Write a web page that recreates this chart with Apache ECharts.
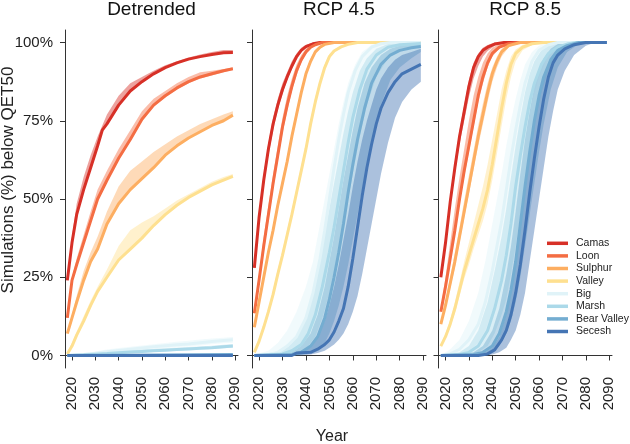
<!DOCTYPE html>
<html><head><meta charset="utf-8">
<script src="https://cdn.jsdelivr.net/npm/echarts@6/dist/echarts.min.js"></script>
<style>html,body{margin:0;padding:0;background:#fff}#c{width:630px;height:444px}</style>
</head><body><div id="c"></div>
<script>
const names = ['Camas','Loon','Sulphur','Valley','Big','Marsh','Bear Valley','Secesh'];
const colors = ['#d73027','#f46d43','#fdae61','#fee090','#e0f3f8','#abd9e9','#74add1','#4575b4'];
const panelTitles = ['Detrended','RCP 4.5','RCP 8.5'];
const xTickYears = [2020,2030,2040,2050,2060,2070,2080,2090];
const yTickValues = [0,25,50,75,100];

// ---------- Detrended ----------
const detCamas = [[2018,24],[2020,36],[2022,45],[2025,53],[2028,60],[2031,67],[2033,72],[2035,74],[2040,80],[2045,84.5],[2050,87.5],[2055,90],[2060,92],[2065,93.5],[2070,94.7],[2075,95.5],[2080,96.2],[2085,96.7],[2089,96.8]];
const detCamasBand = [[2018,24,24.5],[2020,36,38],[2022,45,48.5],[2025,53,57],[2028,60,64],[2031,67,70],[2033,72,73.5],[2035,74,77],[2040,80,83],[2045,84.5,87],[2050,87.5,89],[2055,90,91],[2060,92,92.7],[2065,93.5,94],[2070,94.5,95.2],[2075,95.4,96.2],[2080,96,97],[2085,96.5,97.6],[2089,96.6,97.6]];
const detLoon = [[2018,12],[2020,24],[2022,29],[2025,36],[2028,43],[2031,50],[2035,56],[2040,63],[2045,69],[2050,75.5],[2055,80],[2060,83],[2065,85.5],[2070,87.5],[2075,89],[2080,90],[2085,91],[2089,91.6]];
const detLoonBand = [[2018,12,12.5],[2020,23.5,25],[2022,28.5,31],[2025,35.5,38.5],[2028,42.5,46],[2031,49.5,53],[2035,55.5,59],[2040,62.5,66],[2045,68.5,72],[2050,75,78],[2055,79.5,82],[2060,82.5,84.5],[2065,85,87],[2070,87,89],[2075,88.5,90.5],[2080,89.5,91],[2085,90.5,91.5],[2089,91.3,92]];
const detSulphur = [[2018,7],[2020,12],[2022,17],[2025,24],[2028,30],[2031,34],[2035,42],[2040,48.5],[2045,53],[2050,56.5],[2055,60],[2060,64],[2065,67],[2070,69.5],[2075,71.5],[2080,73.5],[2085,75],[2089,76.8]];
const detSulphurBand = [[2018,7,7.5],[2020,12,13],[2022,17,19],[2025,24,27],[2028,30,33],[2031,34,38],[2035,42,46],[2040,48.5,54],[2045,53,59],[2050,56.5,62],[2055,60,65],[2060,64,67.5],[2065,67,70],[2070,69.5,72],[2075,71.5,74],[2080,73.5,75.5],[2085,75,77],[2089,76.5,78]];
const detValley = [[2018,0.5],[2020,3],[2022,6.5],[2025,11],[2028,16],[2031,20.5],[2035,25],[2040,30.5],[2045,34],[2050,37.5],[2055,41.5],[2060,45],[2065,48],[2070,50.5],[2075,52.5],[2080,54.5],[2085,56],[2089,57.2]];
const detValleyBand = [[2018,0.5,1],[2020,3,4],[2022,6.5,7.5],[2025,11,12.5],[2028,16,17.5],[2031,20.5,22],[2035,25,27.5],[2040,30.5,35],[2045,34,40],[2050,37.5,42.5],[2055,41.5,44.5],[2060,45,47],[2065,48,49.5],[2070,50.5,51.5],[2075,52.5,53.5],[2080,54.5,55.5],[2085,56,57],[2089,57,58]];
const detBig = [[2018,0],[2025,0.3],[2030,0.7],[2035,1.2],[2040,1.6],[2045,2],[2050,2.4],[2055,2.8],[2060,3.1],[2065,3.4],[2070,3.7],[2075,4.1],[2080,4.5],[2085,4.8],[2089,5]];
const detBigBand = [[2018,0,0.2],[2025,0.1,0.7],[2030,0.3,1.3],[2035,0.7,1.9],[2040,1,2.4],[2045,1.3,2.8],[2050,1.6,3.2],[2055,2,3.6],[2060,2.3,4],[2065,2.6,4.4],[2070,2.9,4.7],[2075,3.2,5.1],[2080,3.6,5.4],[2085,3.9,5.7],[2089,4.1,5.9]];
const detMarsh = [[2018,0],[2025,0.2],[2030,0.4],[2035,0.6],[2040,0.9],[2045,1.1],[2050,1.3],[2055,1.5],[2060,1.7],[2065,1.9],[2070,2.1],[2075,2.3],[2080,2.5],[2085,2.8],[2089,3]];
const detMarshBand = [[2018,0,0.1],[2025,0,0.5],[2030,0.1,0.8],[2035,0.3,1.1],[2040,0.5,1.4],[2045,0.7,1.6],[2050,0.9,1.9],[2055,1.1,2.1],[2060,1.3,2.3],[2065,1.5,2.5],[2070,1.7,2.7],[2075,1.9,2.9],[2080,2.1,3.1],[2085,2.3,3.4],[2089,2.5,3.6]];
const detBear = [[2018,0],[2040,0.1],[2089,0.3]];
const detSecesh = [[2018,0],[2089,0]];

// ---------- RCP 4.5 ----------
const r45Camas = [[2018,28],[2020,44],[2022,56],[2024,66],[2026,74],[2028,80],[2030,85],[2032,89],[2034,92.5],[2036,95.5],[2038,97.5],[2040,98.7],[2043,99.6],[2046,100],[2089,100]];
const r45CamasBand = [[2018,27.5,29],[2020,42.5,45.5],[2022,54,58],[2024,64,68],[2026,72,76],[2028,78.5,82],[2030,83.5,87],[2032,88,90.5],[2034,91.5,94],[2036,94.5,96.5],[2038,97,98.3],[2040,98.3,99.3],[2043,99.4,100],[2046,100,100],[2089,100,100]];
const r45Loon = [[2018,13.5],[2020,24],[2022,35],[2024,45],[2026,55],[2028,64],[2030,73],[2032,80],[2034,86],[2036,91],[2038,94.5],[2040,97],[2042,98.5],[2044,99.3],[2047,100],[2089,100]];
const r45LoonBand = [[2018,13,14.5],[2020,22.5,26],[2022,33,38],[2024,43,48],[2026,53,58],[2028,62,67],[2030,71,76],[2032,78,83],[2034,84.5,88.5],[2036,89.5,93],[2038,93.5,96],[2040,96.3,98],[2042,98,99.2],[2044,99,99.8],[2047,100,100],[2089,100,100]];
const r45Sulphur = [[2018,9],[2020,17],[2022,25],[2024,33],[2026,40],[2028,48],[2030,55],[2032,62],[2034,70],[2036,77],[2038,84],[2040,90],[2042,94],[2044,97],[2046,98.5],[2048,99.4],[2052,100],[2089,100]];
const r45SulphurBand = [[2018,8.5,9.5],[2020,16,18],[2022,24,26.5],[2024,32,34.5],[2026,39,41.5],[2028,47,49.5],[2030,54,56.5],[2032,61,63.5],[2034,69,71.5],[2036,76,78.5],[2038,83,85],[2040,89,91],[2042,93.3,95],[2044,96.5,97.7],[2046,98,99],[2048,99.2,99.7],[2052,100,100],[2089,100,100]];
const r45Valley = [[2018,1],[2020,4.5],[2022,9],[2024,14],[2026,19.5],[2028,26],[2030,32],[2032,38.5],[2034,45],[2036,52],[2038,59],[2040,66],[2042,74],[2044,81],[2046,87],[2048,92],[2050,95.5],[2052,97.3],[2055,98.6],[2058,99.4],[2062,100],[2089,100]];
const r45ValleyBand = [[2018,0.8,1.3],[2020,4,5.5],[2022,8.3,10],[2024,13,15],[2026,18.5,21],[2028,25,27.5],[2030,31,33.5],[2032,37.5,40],[2034,44,46.5],[2036,51,53.5],[2038,58,60.5],[2040,65,67.5],[2042,73,75.5],[2044,80,82.5],[2046,86,88],[2048,91.3,93],[2050,95,96.3],[2052,97,97.8],[2055,98.4,99],[2058,99.2,99.7],[2062,100,100],[2089,100,100]];
const r45Big = [[2018,0],[2024,0.3],[2028,1],[2032,3],[2036,6],[2040,12],[2043,20],[2046,31],[2048,40],[2050,50],[2052,60],[2054,69],[2056,77],[2058,84],[2061,91],[2064,95.5],[2068,98.5],[2072,99.6],[2076,100],[2089,100]];
const r45BigBand = [[2018,0,0.2],[2024,0,1.5],[2028,0.3,4],[2032,1,8],[2036,2.5,14],[2040,5,22],[2043,9,30],[2046,16,42],[2048,22,50],[2050,30,58],[2052,39,66],[2054,48,74],[2056,57,81],[2058,66,87],[2061,77,93],[2064,86,97],[2068,93,99.3],[2072,97,100],[2076,99,100],[2080,100,100],[2089,100,100]];
const r45Marsh = [[2018,0],[2030,0.5],[2034,1.5],[2038,3.5],[2041,7],[2044,13],[2047,22],[2050,33],[2052,41],[2054,50],[2056,59],[2058,68],[2060,76],[2063,85],[2066,91.5],[2070,96],[2075,98.5],[2080,99.3],[2089,99.7]];
const r45MarshBand = [[2018,0,0],[2030,0,1.5],[2034,0.5,4],[2038,1.5,9],[2041,3,15],[2044,6,24],[2047,12,35],[2050,20,47],[2052,26,55],[2054,33,63],[2056,41,71],[2058,50,78],[2060,58,84],[2063,70,91],[2066,80,95],[2070,89,98],[2075,95,99.5],[2080,98,100],[2089,99,100]];
const r45Bear = [[2018,0],[2034,0.3],[2038,1],[2042,3],[2045,6],[2048,12],[2050,18],[2052,25],[2054,33],[2056,42],[2058,52],[2060,61],[2062,69],[2065,79],[2068,87],[2072,93],[2076,96],[2080,97.5],[2085,98.3],[2089,98.7]];
const r45BearBand = [[2018,0,0],[2034,0,1],[2038,0.2,3],[2042,1,7],[2045,2,13],[2048,4,22],[2050,7,30],[2052,11,38],[2054,16,47],[2056,22,56],[2058,29,64],[2060,37,72],[2062,45,79],[2065,57,87],[2068,68,92],[2072,80,96],[2076,88,98],[2080,92,99],[2085,95,99.6],[2089,97,100]];
const r45Secesh = [[2018,0],[2034,0],[2036,0.8],[2042,1],[2045,2],[2048,3.5],[2050,5],[2052,7.5],[2054,11],[2056,15],[2058,22],[2060,31],[2062,41],[2064,51],[2066,60],[2068,67.5],[2070,74],[2072,79],[2075,84],[2078,87.5],[2081,90],[2085,91.5],[2089,93]];
const r45SeceshBand = [[2018,0,0],[2034,0,0.5],[2038,0,1.5],[2042,0.3,3],[2045,0.8,6],[2048,1.5,11],[2050,2.5,16],[2052,3.5,22],[2054,5,29],[2056,7,37],[2058,10,45],[2060,14,54],[2062,19,62],[2064,26,69],[2066,34,75],[2068,42,80],[2070,50,85],[2072,58,88.5],[2075,68,92],[2078,76,94.5],[2081,81,96],[2085,85,97],[2089,87.5,98]];

// ---------- RCP 8.5 ----------
const r85Camas = [[2018,25],[2020,36],[2022,49],[2024,60],[2026,70],[2028,78],[2030,86],[2032,92],[2034,95.5],[2036,97.5],[2038,98.5],[2041,99.5],[2045,100],[2089,100]];
const r85CamasBand = [[2018,24.5,26],[2020,35,37.5],[2022,47.5,51],[2024,58,62],[2026,67.5,72],[2028,75,80],[2030,82.5,88],[2032,88.5,93.5],[2034,92.5,96.5],[2036,95.5,98.3],[2038,97.3,99.2],[2041,99,100],[2045,100,100],[2089,100,100]];
const r85Loon = [[2018,14],[2020,22],[2022,31],[2024,40],[2026,50],[2028,59],[2030,67],[2032,75],[2034,83],[2036,89],[2038,93.5],[2040,96.5],[2043,98.5],[2047,99.6],[2051,100],[2089,100]];
const r85LoonBand = [[2018,13.5,15],[2020,21,25],[2022,30,36],[2024,39,47],[2026,48.5,57],[2028,57,66],[2030,65,75],[2032,73,83],[2034,81,89],[2036,87,93.5],[2038,92,96.5],[2040,95.5,98.3],[2043,98,99.5],[2047,99.5,100],[2051,100,100],[2089,100,100]];
const r85Sulphur = [[2018,10],[2020,16],[2022,23],[2024,30],[2026,38],[2028,46],[2030,54],[2032,62],[2034,70],[2036,77],[2038,84],[2040,90],[2042,94],[2044,97],[2047,99],[2052,100],[2089,100]];
const r85SulphurBand = [[2018,9.5,11],[2020,15,17.5],[2022,21.5,25],[2024,28,33],[2026,36,41],[2028,44,49.5],[2030,51.5,57.5],[2032,59.5,65.5],[2034,67,73.5],[2036,74,80.5],[2038,81,87],[2040,87.5,92],[2042,92,95.5],[2044,95.5,98],[2047,98.5,99.6],[2052,100,100],[2089,100,100]];
const r85Valley = [[2018,3],[2020,6],[2022,10],[2024,15],[2026,21],[2028,27],[2030,32],[2032,37],[2034,42],[2036,47],[2038,53],[2040,61],[2042,70],[2044,79],[2046,87],[2048,93],[2050,96.5],[2053,98.5],[2057,99.6],[2062,100],[2089,100]];
const r85ValleyBand = [[2018,2.5,3.5],[2020,5.5,7],[2022,9,11.5],[2024,13.5,17],[2026,19,23.5],[2028,24.5,30],[2030,29,36],[2032,34,42],[2034,38.5,48],[2036,43,54],[2038,48.5,61],[2040,56,69],[2042,64.5,77],[2044,73.5,85],[2046,82,91],[2048,89,95.5],[2050,94,97.8],[2053,97.5,99.3],[2057,99.2,100],[2062,100,100],[2089,100,100]];
const r85Big = [[2018,0],[2022,0.5],[2026,2],[2030,5],[2034,10],[2037,17],[2040,27],[2042,35],[2044,43],[2046,53],[2048,63],[2050,72],[2052,80],[2054,87],[2057,94],[2060,97.5],[2064,99.3],[2068,100],[2089,100]];
const r85BigBand = [[2018,0,0],[2022,0,2],[2026,0.5,5],[2030,1.5,11],[2034,4,20],[2037,8,30],[2040,14,42],[2042,19,50],[2044,25,58],[2046,33,67],[2048,42,75],[2050,51,82],[2052,60,88],[2054,69,93],[2057,81,97],[2060,89,99],[2064,96,100],[2068,99,100],[2072,100,100],[2089,100,100]];
const r85Marsh = [[2018,0],[2026,0.3],[2030,1],[2034,3],[2038,8],[2041,15],[2044,24],[2046,32],[2048,42],[2050,54],[2052,64],[2054,73],[2056,81],[2058,87],[2061,93],[2064,96.5],[2068,98.5],[2072,99.5],[2076,100],[2089,100]];
const r85MarshBand = [[2018,0,0],[2026,0,1],[2030,0.3,3],[2034,1,8],[2038,3,17],[2041,7,27],[2044,13,38],[2046,18,47],[2048,26,57],[2050,35,67],[2052,45,76],[2054,55,84],[2056,65,90],[2058,74,94],[2061,84,97.5],[2064,91,99],[2068,96,100],[2072,99,100],[2076,100,100],[2089,100,100]];
const r85Bear = [[2018,0],[2032,0.3],[2036,1],[2040,3],[2043,7],[2046,14],[2048,21],[2050,30],[2052,42],[2054,54],[2056,65],[2058,75],[2060,83],[2062,89],[2065,94.5],[2068,97.5],[2072,99],[2077,100],[2089,100]];
const r85BearBand = [[2018,0,0],[2032,0,1],[2036,0.3,3],[2040,1,8],[2043,3,15],[2046,7,26],[2048,11,35],[2050,17,46],[2052,25,58],[2054,35,69],[2056,45,78],[2058,55,86],[2060,65,91],[2062,74,95],[2065,85,98],[2068,92,99.5],[2072,97,100],[2077,99.5,100],[2089,100,100]];
const r85Secesh = [[2018,0],[2034,0],[2038,0.5],[2041,1.8],[2044,5],[2046,8],[2048,13],[2050,20],[2052,29],[2054,40],[2056,52],[2058,63],[2060,73],[2062,82],[2064,89],[2066,93.5],[2068,96],[2071,98],[2075,99.3],[2080,100],[2089,100]];
const r85SeceshBand = [[2018,0,0],[2036,0,0.5],[2040,0.3,2.5],[2043,1,6],[2046,2.5,13],[2048,5,20],[2050,8,30],[2052,13,41],[2054,20,53],[2056,30,64],[2058,40,74],[2060,50,82],[2062,60,88],[2064,70,93],[2066,78,96],[2068,85,98],[2071,91,99.3],[2075,96,100],[2080,99,100],[2084,100,100],[2089,100,100]];

const panelLines = [
  [detCamas, detLoon, detSulphur, detValley, detBig, detMarsh, detBear, detSecesh],
  [r45Camas, r45Loon, r45Sulphur, r45Valley, r45Big, r45Marsh, r45Bear, r45Secesh],
  [r85Camas, r85Loon, r85Sulphur, r85Valley, r85Big, r85Marsh, r85Bear, r85Secesh]
];
const panelBands = [
  [detCamasBand, detLoonBand, detSulphurBand, detValleyBand, detBigBand, detMarshBand, null, null],
  [r45CamasBand, r45LoonBand, r45SulphurBand, r45ValleyBand, r45BigBand, r45MarshBand, r45BearBand, r45SeceshBand],
  [r85CamasBand, r85LoonBand, r85SulphurBand, r85ValleyBand, r85BigBand, r85MarshBand, r85BearBand, r85SeceshBand]
];

const FONT = "'Liberation Sans', Arial, Helvetica, sans-serif";
const gridBoxes = [{left:65,width:173},{left:252,width:174},{left:438.5,width:173.5}];
const AX = '#333';

const grids = [], xAxes = [], yAxes = [], titles = [], series = [];
gridBoxes.forEach((g, p) => {
  grids.push({left: g.left, width: g.width, top: 30, height: 338, containLabel: false});
  xAxes.push({
    type: 'value', gridIndex: p, min: 2017, max: 2091.2,
    axisLine: {show: true, lineStyle: {color: AX, width: 1}},
    axisTick: {show: true, length: 5, lineStyle: {color: AX}, customValues: xTickYears},
    axisLabel: {show: true, rotate: 90, fontSize: 15, color: '#222', fontFamily: FONT, margin: 9,
      customValues: xTickYears, hideOverlap: false, formatter: v => String(Math.round(v))},
    splitLine: {show: false}
  });
  yAxes.push({
    type: 'value', gridIndex: p, min: -4, max: 104,
    axisLine: {show: true, lineStyle: {color: AX, width: 1}},
    axisTick: {show: true, length: 5, lineStyle: {color: AX}, customValues: yTickValues},
    axisLabel: {show: p === 0, fontSize: 15, color: '#222', fontFamily: FONT, margin: 12, customValues: yTickValues, formatter: v => v + '%'},
    splitLine: {show: false}
  });
  titles.push({text: panelTitles[p], left: g.left + g.width / 2, top: 0, textAlign: 'center', padding: 0,
    textStyle: {fontSize: 19, fontWeight: 'normal', color: '#111', fontFamily: FONT}});

  for (let i = 0; i < names.length; i++) {
    const band = panelBands[p][i];
    if (band) {
      const col = colors[i];
      series.push({
        type: 'custom', name: '_band_' + p + '_' + i, xAxisIndex: p, yAxisIndex: p, silent: true,
        data: band, encode: {x: 0, y: [1, 2]},
        renderItem: function (params, api) {
          if (params.dataIndex !== 0) return null;
          const pts = [];
          for (let k = 0; k < band.length; k++) pts.push(api.coord([band[k][0], band[k][2]]));
          for (let k = band.length - 1; k >= 0; k--) pts.push(api.coord([band[k][0], band[k][1]]));
          return {type: 'polygon', shape: {points: pts}, style: {fill: col, opacity: 0.45}};
        }
      });
    }
    series.push({
      type: 'line', name: names[i], xAxisIndex: p, yAxisIndex: p, data: panelLines[p][i],
      symbol: 'none', smooth: false, silent: true,
      lineStyle: {color: colors[i], width: 3}, itemStyle: {color: colors[i]}
    });
  }
});

const chart = echarts.init(document.getElementById('c'), null, {renderer: 'canvas'});
chart.setOption({
  animation: false,
  backgroundColor: '#fff',
  title: titles,
  grid: grids,
  xAxis: xAxes,
  yAxis: yAxes,
  legend: {
    data: names, orient: 'vertical', left: 547, top: 237, padding: 0, itemGap: 0,
    itemWidth: 21, itemHeight: 3.5, icon: 'rect', selectedMode: false,
    textStyle: {fontSize: 10.5, color: '#222', fontFamily: FONT, lineHeight: 12.6, padding: [0, 0, 0, 3]}
  },
  graphic: [
    {type: 'text', x: 332, y: 437, style: {text: 'Year', fill: '#222', font: '16px ' + FONT, textAlign: 'center', textVerticalAlign: 'middle'}},
    {type: 'text', x: 8, y: 180, rotation: Math.PI / 2, style: {text: 'Simulations (%) below QET50', fill: '#222', font: '17px ' + FONT, textAlign: 'center', textVerticalAlign: 'middle'}}
  ],
  series: series
});
</script></body></html>
